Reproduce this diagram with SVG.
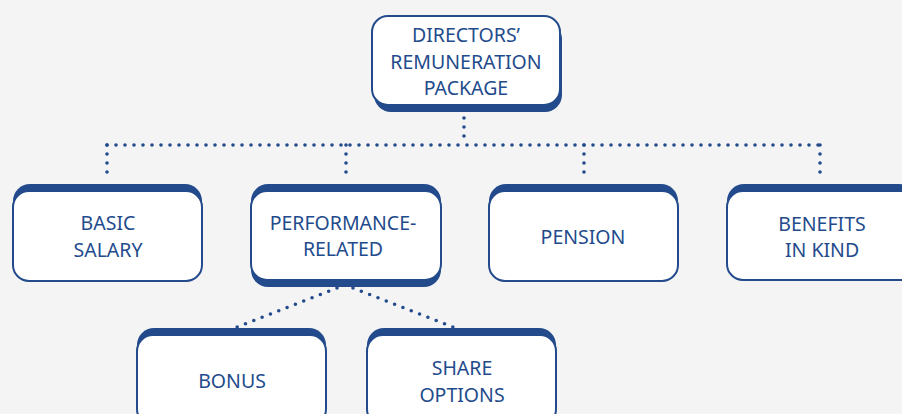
<svg xmlns="http://www.w3.org/2000/svg" width="902" height="414" viewBox="0 0 902 414">
<style>
.sh{fill:#234b8c}
.bx{fill:#fff;stroke:#234b8c;stroke-width:2}
.t{font-family:"Noto Sans","Open Sans",sans-serif;font-size:19.5px;fill:#234b8c;text-anchor:middle}
.dot{fill:none;stroke:#234b8c;stroke-width:3.6;stroke-linecap:round;stroke-dasharray:0 9}
.dd{fill:none;stroke:#234b8c;stroke-width:3.6;stroke-linecap:round;stroke-dasharray:0 8.93}
</style>
<rect width="902" height="414" fill="#f4f4f4"/>
<g id="n-top">
<rect class="sh" x="374" y="22" width="188" height="90" rx="17"/>
<rect class="bx" x="372" y="16" width="188" height="89" rx="16"/>
<text class="t" x="466" y="42">DIRECTORS’</text>
<text class="t" x="466" y="69">REMUNERATION</text>
<text class="t" x="466" y="95">PACKAGE</text>
</g>
<g id="n-basic">
<rect class="sh" x="13" y="184" width="189" height="90" rx="17"/>
<rect class="bx" x="13" y="191" width="189" height="90" rx="16"/>
<text class="t" x="108" y="230">BASIC</text>
<text class="t" x="108" y="257">SALARY</text>
</g>
<g id="n-perf">
<rect class="sh" x="251" y="184" width="190" height="103" rx="17"/>
<rect class="bx" x="251" y="191" width="190" height="89" rx="16"/>
<text class="t" x="343" y="230">PERFORMANCE-</text>
<text class="t" x="343" y="256">RELATED</text>
</g>
<g id="n-pension">
<rect class="sh" x="489" y="184" width="189" height="90" rx="17"/>
<rect class="bx" x="489" y="191" width="189" height="90" rx="16"/>
<text class="t" x="583" y="244">PENSION</text>
</g>
<g id="n-benefits">
<rect class="sh" x="727" y="184" width="189" height="90" rx="17"/>
<rect class="bx" x="727" y="191" width="189" height="89" rx="16"/>
<text class="t" x="822" y="231">BENEFITS</text>
<text class="t" x="822" y="257">IN KIND</text>
</g>
<g id="n-bonus">
<rect class="sh" x="137" y="328" width="189" height="90" rx="17"/>
<rect class="bx" x="137" y="335" width="189" height="90" rx="16"/>
<text class="t" x="232" y="388">BONUS</text>
</g>
<g id="n-share">
<rect class="sh" x="367" y="328" width="189" height="90" rx="17"/>
<rect class="bx" x="367" y="335" width="189" height="90" rx="16"/>
<text class="t" x="462" y="375">SHARE</text>
<text class="t" x="462" y="402">OPTIONS</text>
</g>
<g id="connectors">
<path class="dot" d="M464 118V145"/>
<path class="dot" d="M107 145H820"/>
<path class="dot" d="M107 145V181"/>
<path class="dot" d="M346 145V181"/>
<path class="dot" d="M584 145V181"/>
<path class="dot" d="M820 145V181"/>
<path class="dd" d="M337 288L237 327"/>
<path class="dd" d="M353 288L453 327"/>
</g>
</svg>
